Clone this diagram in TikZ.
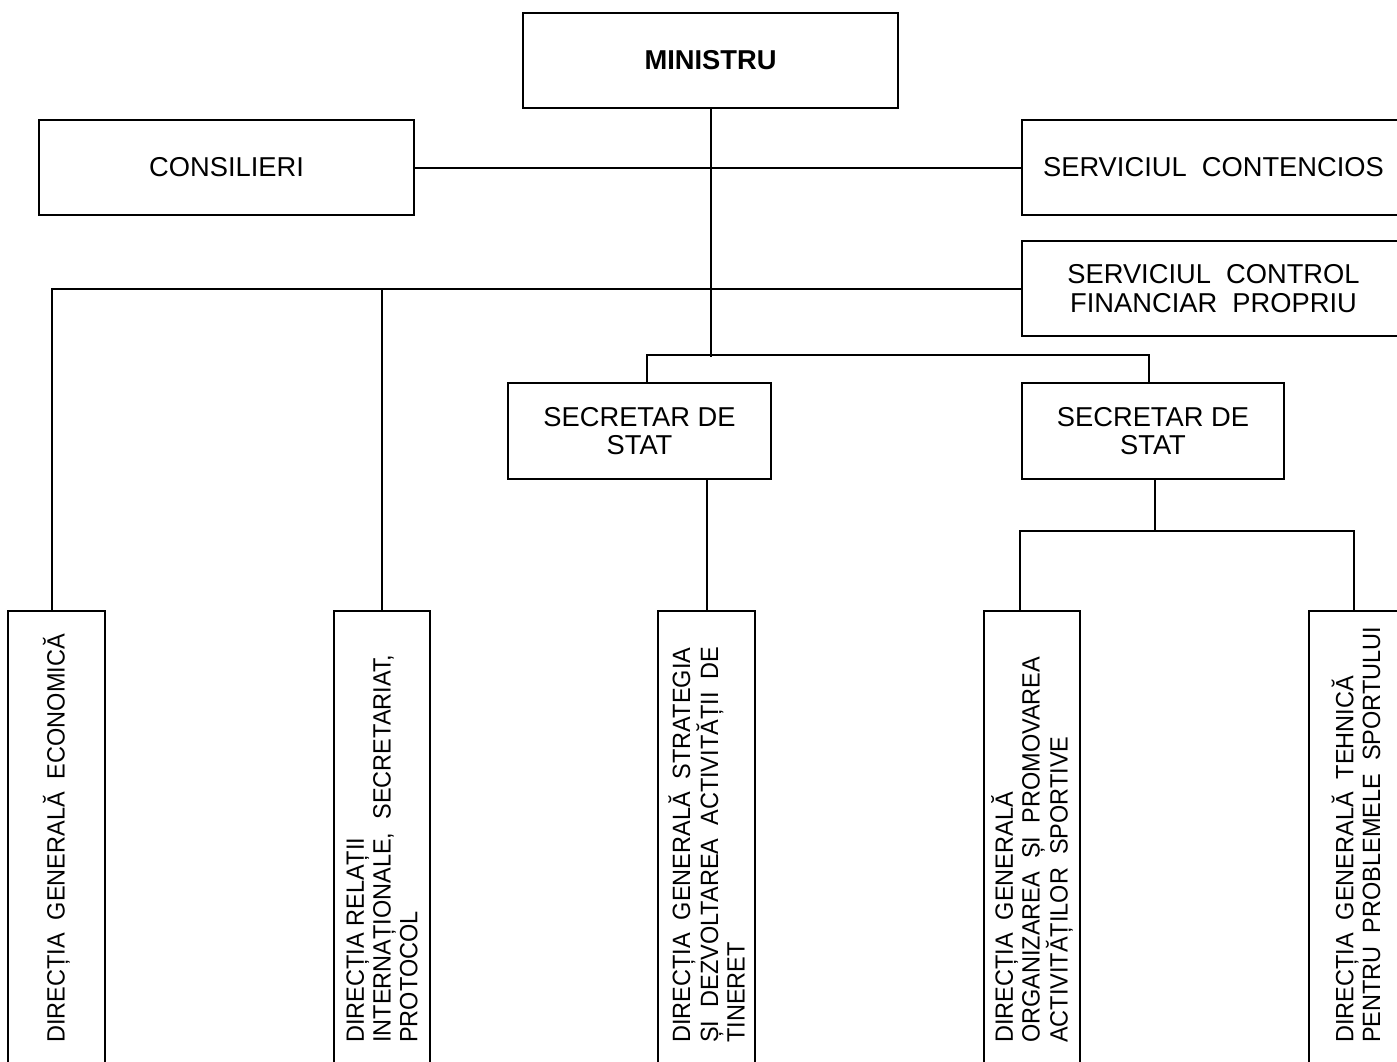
\documentclass[tikz,border=0pt]{standalone}
\usepackage{fontspec}
\setmainfont{Liberation Sans}
\newfontfamily\condfont[FakeStretch=0.94]{Liberation Sans}
\begin{document}
\begin{tikzpicture}[x=1pt,y=-1pt,
  conn/.style={draw, line width=2pt},
  box/.style={draw, line width=1.8pt, inner sep=0pt, align=center, font=\fontsize{27.3}{28.3}\selectfont},
  tallbox/.style={draw, line width=1.8pt, inner sep=0pt, minimum height=464pt},
  vlab/.style={rotate=90, anchor=west, align=left, inner sep=0pt, font=\condfont\fontsize{25}{26.7}\selectfont}]
\useasboundingbox (0,0) rectangle (1397,1061);
\clip (0,0) rectangle (1397,1061);
% top level
\node[box, minimum width=375pt, minimum height=95pt] (min) at (710.5,60.5) {\textbf{MINISTRU}};
\node[box, minimum width=375pt, minimum height=95pt] (cons) at (226.5,167.5) {CONSILIERI};
\node[box, minimum width=383pt, minimum height=95pt] (cont) at (1213.5,167.5) {SERVICIUL\ \ CONTENCIOS};
\node[box, minimum width=383pt, minimum height=95pt] (scfp) at (1213.5,288.5) {SERVICIUL\ \ CONTROL\\FINANCIAR\ \ PROPRIU};
\node[box, minimum width=263pt, minimum height=96pt] (sds1) at (639.5,431) {SECRETAR DE\\STAT};
\node[box, minimum width=262pt, minimum height=96pt] (sds2) at (1153,431) {SECRETAR DE\\STAT};
% bottom boxes
\node[tallbox, minimum width=97pt] (b1) at (56.5,843) {};
\node[tallbox, minimum width=96pt] (b2) at (382,843) {};
\node[tallbox, minimum width=97pt] (b3) at (706.5,843) {};
\node[tallbox, minimum width=96pt] (b4) at (1032,843) {};
\node[tallbox, minimum width=96pt] (b5) at (1357,843) {};
% labels
\node[vlab] (t1) at (56.5,1043) {DIRECȚIA\ \ GENERALĂ\ \ ECONOMICĂ};
\node[vlab] (t2) at (382,1043) {DIRECȚIA\ RELAȚII\\INTERNAȚIONALE,\ \ SECRETARIAT,\\PROTOCOL};
\node[vlab] (t3) at (706.5,1043) {DIRECȚIA\ \ GENERALĂ\ \ STRATEGIA\\ȘI\ \ DEZVOLTAREA\ \ ACTIVITĂȚII\ \ DE\\TINERET};
\node[vlab] (t4) at (1032,1043) {DIRECȚIA\ \ GENERALĂ\\ORGANIZAREA\ \ ȘI\ \ PROMOVAREA\\ACTIVITĂȚILOR\ \ SPORTIVE};
\node[vlab] (t5) at (1356,1043) {DIRECȚIA\ \ GENERALĂ\ \ TEHNICĂ\\PENTRU\ \ PROBLEMELE\ \ SPORTULUI};
% connectors
\draw[conn] (cons.east) -- (cont.west);
\draw[conn] (min.south) -- ++(0,248) coordinate (jm);
\draw[conn] ([xshift=-4.5pt]b1.north) |- (scfp.west);
\draw[conn] (b2.north) -- (b2.north |- scfp.west);
\draw[conn] ([xshift=7.5pt]sds1.north) -- ++(0,-27) -| ([xshift=-4pt]sds2.north);
\draw[conn] (sds1.south -| b3.north) -- (b3.north);
\draw[conn] ([xshift=2pt]sds2.south) -- ++(0,51) coordinate (j2);
\draw[conn] ([xshift=-12pt]b4.north) |- (j2) -| ([xshift=-3pt]b5.north);
\end{tikzpicture}
\end{document}
